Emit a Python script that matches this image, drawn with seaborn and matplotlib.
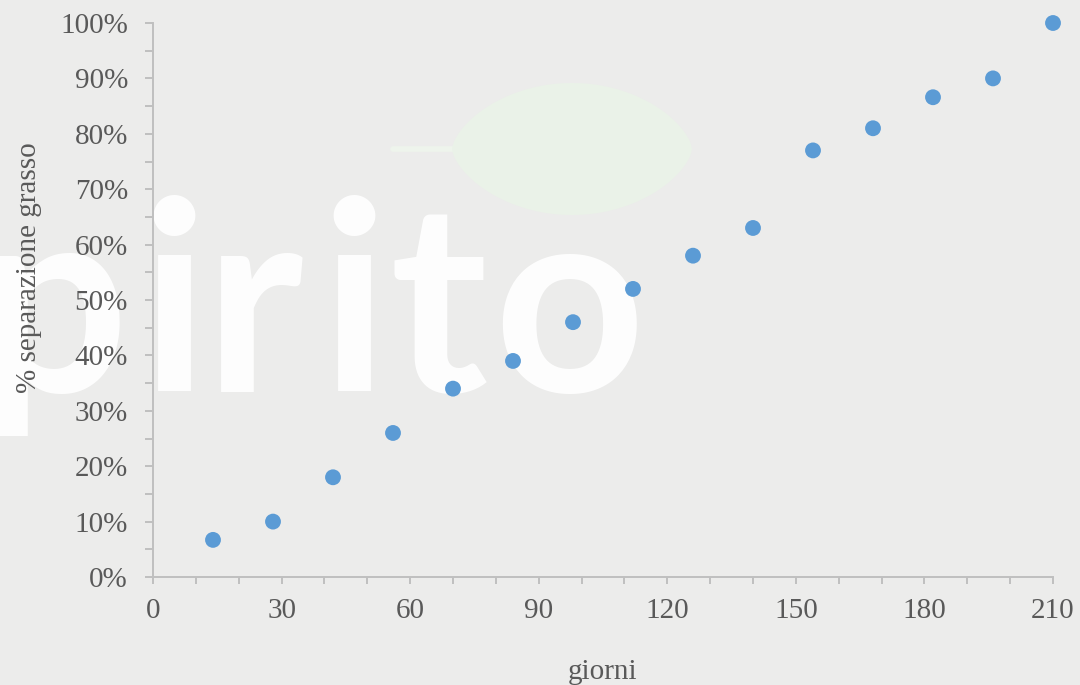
import numpy as np
import pandas as pd
import matplotlib
matplotlib.use("Agg")
import matplotlib.pyplot as plt
import seaborn as sns
from matplotlib.ticker import MultipleLocator, PercentFormatter
from matplotlib.patches import Polygon
from matplotlib.lines import Line2D

# Fat separation over ageing time
giorni = [14, 28, 42, 56, 70, 84, 98, 112, 126, 140, 154, 168, 182, 196, 210]
separazione = [6.7, 10, 18, 26, 34, 39, 46, 52, 58, 63, 77, 81, 86.6, 90, 100]

x_label = "giorni"
y_label = "% separazione grasso"
logo_letters = list("pirito")

BG = "#ECECEB"
TEXT = "#595959"
AXIS = "#BFBFBF"
DOT = "#5B9BD5"
W, H = 1080, 685

sns.set_theme(style="white")
plt.rcParams["font.family"] = ["Liberation Serif", "DejaVu Serif"]

df = pd.DataFrame({"giorni": giorni, "separazione": separazione})

fig = plt.figure(figsize=(W / 100, H / 100), dpi=100, facecolor=BG)
ax = fig.add_axes([153 / W, 108 / H, 900 / W, 554 / H])
ax.set_facecolor("none")


def px(x, y):
    """Pixel position (from top-left) to figure fraction."""
    return x / W, (H - y) / H


# background logo: pale leaf with stem, and the spaced-out wordmark
t = np.linspace(-1, 1, 200)
cx, cy, hw, hh = 572, 149, 120, 66
upper = [px(cx + hw * v, cy - hh * (1 - v * v) ** 0.65) for v in t]
lower = [px(cx + hw * v, cy + hh * (1 - v * v) ** 0.65) for v in t[::-1]]
fig.patches.append(Polygon(upper + lower, closed=True, transform=fig.transFigure,
                           facecolor="#EAF2E8", edgecolor="none", zorder=-2))
x0, y0 = px(393, 149)
x1, _ = px(455, 149)
fig.lines.append(Line2D([x0, x1], [y0, y0], transform=fig.transFigure,
                        color="#EEF4EC", lw=4, zorder=-2))
letter_left = [-21, 140, 205, 320, 389, 493]
for ch, lx in zip(logo_letters, letter_left):
    fig.text(lx / W, (H - 392) / H, ch, fontsize=190, family=["Lato", "DejaVu Sans"],
             fontweight="bold", color="white", alpha=0.92, ha="left", va="baseline",
             zorder=-1)

sns.scatterplot(data=df, x="giorni", y="separazione", ax=ax, s=130,
                color=DOT, edgecolor="none", linewidth=0, zorder=3)
for c in ax.collections:
    c.set_clip_on(False)

ax.set_xlim(0, 210)
ax.set_ylim(0, 100)
ax.xaxis.set_major_locator(MultipleLocator(30))
ax.xaxis.set_minor_locator(MultipleLocator(10))
ax.yaxis.set_major_locator(MultipleLocator(10))
ax.yaxis.set_minor_locator(MultipleLocator(5))
ax.yaxis.set_major_formatter(PercentFormatter(decimals=0))

for side in ["top", "right"]:
    ax.spines[side].set_visible(False)
for side in ["left", "bottom"]:
    ax.spines[side].set_color(AXIS)
    ax.spines[side].set_linewidth(1.4)

ax.tick_params(axis="x", which="both", bottom=True, direction="out", length=5,
               width=1.4, color=AXIS, labelsize=21, labelcolor=TEXT, pad=10)
ax.tick_params(axis="y", which="both", left=True, direction="out", length=6,
               width=1.4, color=AXIS, labelsize=21, labelcolor=TEXT, pad=12)

ax.set_xlabel(x_label, fontsize=21, color=TEXT, labelpad=25)
ax.set_ylabel(y_label, fontsize=21, color=TEXT)
ax.yaxis.set_label_coords(-0.123, 0.559)

fig.savefig("out.png", dpi=100, facecolor=BG)
